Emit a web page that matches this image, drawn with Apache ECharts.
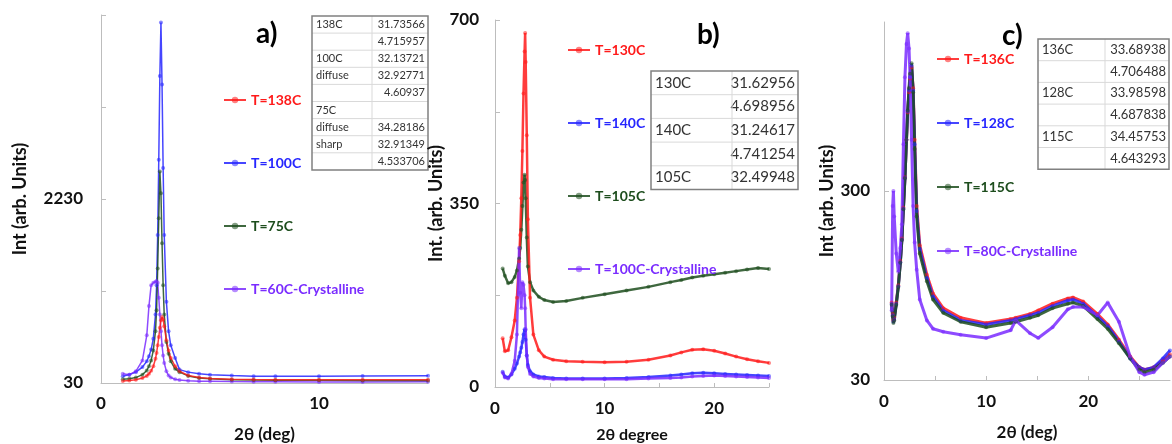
<!DOCTYPE html>
<html>
<head>
<meta charset="utf-8">
<script src="https://cdn.jsdelivr.net/npm/echarts@6.0.0/dist/echarts.min.js"></script>
<style>
  html, body { margin: 0; padding: 0; background: #fff; }
  #chart { width: 1172px; height: 444px; }
</style>
</head>
<body>
<div id="chart"></div>
<script>
// ---- panel a) ----
const aX = [1.0, 1.3, 1.6, 1.9, 2.1, 2.2, 2.3, 2.4, 2.5, 2.55, 2.6, 2.65, 2.7, 2.75, 2.8, 2.85, 2.9, 3.0, 3.1, 3.2, 3.4, 3.6, 4.0, 4.5, 5, 6, 7, 8, 10, 12, 15]
const aT138 = [55, 60, 68, 90, 115, 140, 175, 230, 320, 390, 480, 580, 690, 780, 820, 790, 710, 540, 420, 330, 230, 170, 120, 95, 85, 76, 72, 70, 68, 68, 70]
const aT100 = [110, 130, 160, 220, 290, 350, 430, 560, 850, 1200, 1800, 2700, 3700, 4340, 3600, 2600, 1800, 1000, 650, 480, 330, 190, 160, 140, 130, 120, 112, 110, 112, 114, 118]
const aT75 = [75, 82, 95, 130, 180, 230, 300, 420, 650, 900, 1400, 2000, 2560, 2300, 1700, 1200, 850, 520, 380, 290, 200, 160, 115, 90, 80, 70, 66, 64, 62, 60, 60]
const aT60 = [140, 130, 170, 300, 600, 950, 1200, 1230, 1240, 1250, 1230, 1050, 850, 650, 480, 360, 270, 170, 120, 95, 75, 65, 58, 52, 50, 47, 45, 44, 42, 42, 44]
const aYTicks = [30, 2230]
const aTableCol1 = ["138C", "", "100C", "diffuse", "", "75C", "diffuse", "sharp", ""]
const aTableCol2 = ["31.73566", "4.715957", "32.13721", "32.92771", "4.60937", "", "34.28186", "32.91349", "4.533706"]

// ---- panel b) ----
const bX = [0.7, 0.9, 1.2, 1.5, 1.8, 2.0, 2.2, 2.3, 2.4, 2.5, 2.6, 2.7, 2.75, 2.8, 2.9, 3.0, 3.2, 3.5, 4.0, 4.5, 5.3, 6.5, 8, 10, 12, 14, 16, 17, 18, 19, 20, 21, 22, 23, 24, 25]
const bT130 = [93, 68, 70, 95, 127, 170, 240, 290, 360, 450, 560, 640, 675, 620, 480, 320, 170, 100, 70, 58, 52, 49, 48, 47, 48, 52, 60, 66, 71, 72, 69, 64, 58, 53, 49, 46]
const bT140 = [29, 20, 18, 24, 35, 45, 58, 66, 75, 86, 100, 110, 108, 90, 60, 42, 30, 24, 20, 19, 17, 16, 16, 16, 17, 19, 22, 24, 26, 27, 26, 25, 24, 23, 22, 21]
const bT105 = [226, 212, 198, 200, 210, 222, 245, 265, 300, 345, 390, 405, 395, 360, 285, 230, 200, 184, 172, 166, 162, 164, 170, 177, 184, 191, 200, 204, 209, 212, 215, 218, 221, 224, 227, 225]
const bT100 = [27, 18, 16, 25, 50, 100, 265, 180, 150, 200, 195, 175, 150, 110, 60, 38, 25, 20, 17, 16, 15, 15, 15, 15, 15, 16, 17, 18, 20, 21, 22, 21, 20, 19, 18, 17]
const bYTicks = [0, 350, 700]
const bTableCol1 = ["130C", "", "140C", "", "105C"]
const bTableCol2 = ["31.62956", "4.698956", "31.24617", "4.741254", "32.49948"]

// ---- panel c) ----
const cX = [0.75, 0.85, 0.92, 1.0, 1.2, 1.4, 1.6, 1.75, 1.9, 2.05, 2.2, 2.32, 2.45, 2.55, 2.7, 2.85, 3.0, 3.2, 3.5, 4.2, 4.8, 5.8, 7.5, 10, 12.4, 12.9, 14.3, 15.1, 16.5, 18, 18.5, 19.5, 20.9, 21.9, 23, 24.1, 25, 25.5, 26.4, 27.3, 28]
const cT136 = [77, 67, 62, 64, 77, 95, 128, 168, 245, 355, 560, 780, 1000, 1180, 1350, 1050, 560, 250, 155, 108, 86, 72, 64, 60, 63, 64, 67, 70, 76, 81, 82, 78, 67, 59, 49, 40, 35, 34, 35, 38, 41]
const cT128 = [76, 66, 61, 63, 76, 94, 126, 166, 242, 352, 560, 790, 1020, 1200, 1380, 1020, 530, 235, 148, 104, 83, 70, 62, 59, 62, 63, 66, 68, 74, 79, 80, 76, 65, 58, 48, 39, 35, 34, 35, 39, 43]
const cT115 = [75, 65, 60, 62, 75, 93, 125, 165, 240, 350, 560, 800, 1050, 1250, 1420, 1000, 500, 220, 140, 100, 80, 68, 61, 57, 60, 61, 64, 66, 72, 76, 77, 74, 63, 56, 47, 39, 34, 33, 34, 37, 40]
const cT80 = [70, 250, 300, 220, 140, 112, 150, 200, 530, 1200, 1800, 2050, 1700, 1200, 560, 250, 160, 115, 80, 62, 56, 54, 52, 50, 55, 62, 53, 50, 57, 71, 73, 73, 66, 77, 61, 40, 33, 32, 33, 37, 40]
const cYTicks = [30, 300]
const cTableCol1 = ["136C", "", "128C", "", "115C", ""]
const cTableCol2 = ["33.68938", "4.706488", "33.98598", "4.687838", "34.45753", "4.643293"]

const RED = "#ff1a1a"
const BLUE = "#2626ff"
const GREEN = "#1d4d1d"
const PURPLE = "#7a2cff"
const FONT = "Lato"

const chart = echarts.init(document.getElementById("chart"), null, { renderer: "canvas" })

function pairs(xs, ys) {
  return xs.map((x, i) => [x, ys[i]])
}

function mkSeries(name, color, xs, ys, idx, width) {
  return {
    name,
    type: "line",
    xAxisIndex: idx,
    yAxisIndex: idx,
    data: pairs(xs, ys),
    symbol: "circle",
    symbolSize: 4,
    showSymbol: true,
    animation: false,
    lineStyle: { color, width, opacity: 0.85 },
    itemStyle: { color, opacity: 0.55 }
  }
}

// 表格（用graphic画）
function mkTable(x, y, w1, w2, rowH, col1, col2, fontSize) {
  const els = []
  const n = col1.length
  for (let i = 0; i < n; i++) {
    const ry = y + i * rowH
    if (i > 0) {
      els.push({ type: "line", shape: { x1: x, y1: ry, x2: x + w1 + w2, y2: ry }, style: { stroke: "#d9d9d9", lineWidth: 1 } })
    }
    els.push({ type: "text", x: x + 4, y: ry + rowH / 2, style: { text: col1[i], font: `${fontSize}px ${FONT}`, fill: "#333", textVerticalAlign: "middle" } })
    els.push({ type: "text", x: x + w1 + w2 - 3, y: ry + rowH / 2, style: { text: col2[i], font: `${fontSize}px ${FONT}`, fill: "#333", textAlign: "right", textVerticalAlign: "middle" } })
  }
  els.push({ type: "line", shape: { x1: x + w1, y1: y, x2: x + w1, y2: y + n * rowH }, style: { stroke: "#d9d9d9", lineWidth: 1 } })
  els.push({ type: "rect", shape: { x, y, width: w1 + w2, height: n * rowH }, style: { fill: "none", stroke: "#808080", lineWidth: 1.5 } })
  return els
}

function mkLegend(left, top, gap, names, colors) {
  return {
    orient: "vertical",
    left,
    top,
    padding: 0,
    itemGap: gap,
    itemWidth: 22,
    itemHeight: 8,
    selectedMode: false,
    data: names.map((n, i) => ({ name: n, textStyle: { color: colors[i] } })),
    textStyle: { fontFamily: FONT, fontWeight: "bold", fontSize: 14 }
  }
}

const axisLineStyle = { lineStyle: { color: "#bdbdbd", width: 1 } }
const tickStyle = { inside: true, length: 5, lineStyle: { color: "#bdbdbd" } }
const labelStyle = { color: "#111", fontFamily: FONT, fontWeight: "bold", fontSize: 17 }
const nameStyle = { color: "#111", fontFamily: FONT, fontWeight: "bold", fontSize: 18 }

const option = {
  animation: false,
  grid: [
    { left: 101, top: 15, width: 327, height: 368, outerBoundsMode: "none" },
    { left: 495, top: 20, width: 274, height: 367, outerBoundsMode: "none" },
    { left: 884, top: 22, width: 286, height: 358, outerBoundsMode: "none" }
  ],
  xAxis: [
    {
      gridIndex: 0, type: "value", min: 0, max: 15, interval: 10,
      name: "2θ (deg)", nameLocation: "middle", nameGap: 43, nameTextStyle: Object.assign({}, nameStyle, { fontSize: 17 }),
      axisLine: axisLineStyle, axisTick: { show: false }, splitLine: { show: false },
      axisLabel: Object.assign({ margin: 12, showMaxLabel: false }, labelStyle)
    },
    {
      gridIndex: 1, type: "value", min: 0, max: 25, interval: 5,
      name: "2θ degree", nameLocation: "middle", nameGap: 40, nameTextStyle: Object.assign({}, nameStyle, { fontSize: 16 }),
      axisLine: axisLineStyle, axisTick: Object.assign({}, tickStyle, { length: 4 }), splitLine: { show: false },
      axisLabel: Object.assign({ margin: 13, formatter: (v) => (v % 10 === 0 ? v : "") }, labelStyle)
    },
    {
      gridIndex: 2, type: "value", min: 0, max: 28, interval: 5,
      name: "2θ (deg)", nameLocation: "middle", nameGap: 44, nameTextStyle: Object.assign({}, nameStyle, { fontSize: 17 }),
      axisLine: axisLineStyle, axisTick: Object.assign({}, tickStyle, { length: 4 }), splitLine: { show: false },
      axisLabel: Object.assign({ margin: 13, showMaxLabel: false, formatter: (v) => (v % 10 === 0 ? v : "") }, labelStyle)
    }
  ],
  yAxis: [
    {
      gridIndex: 0, type: "value", min: 30, max: 4430, interval: 1100,
      name: "Int (arb. Units)", nameLocation: "middle", nameGap: 72, nameTextStyle: nameStyle,
      axisLine: { show: true, lineStyle: { color: "#bdbdbd" } },
      axisTick: Object.assign({ show: true }, tickStyle), splitLine: { show: false },
      axisLabel: Object.assign({ margin: 18, formatter: (v) => (aYTicks.includes(v) ? v : "") }, labelStyle)
    },
    {
      gridIndex: 1, type: "value", min: 0, max: 700, interval: 175,
      name: "Int. (arb. Units)", nameLocation: "middle", nameGap: 50, nameTextStyle: nameStyle,
      axisLine: { show: true, lineStyle: { color: "#bdbdbd" } },
      axisTick: Object.assign({ show: true }, tickStyle), splitLine: { show: false },
      axisLabel: Object.assign({ margin: 16, formatter: (v) => (bYTicks.includes(v) ? v : "") }, labelStyle)
    },
    {
      gridIndex: 2, type: "log", logBase: 10, min: 30, max: 2350,
      name: "Int (arb. Units)", nameLocation: "middle", nameGap: 46, nameTextStyle: nameStyle,
      axisLine: { show: true, lineStyle: { color: "#bdbdbd" } },
      axisTick: Object.assign({ show: true, customValues: cYTicks }, tickStyle),
      minorTick: { show: false },
      splitLine: { show: false },
      axisLabel: Object.assign({ margin: 14, customValues: cYTicks, formatter: (v) => Math.round(v) }, labelStyle)
    }
  ],
  legend: [
    mkLegend(223, 93, 49, ["T=138C", "T=100C", "T=75C", "T=60C-Crystalline"], [RED, BLUE, GREEN, PURPLE]),
    mkLegend(567, 43, 59, ["T=130C", "T=140C", "T=105C", "T=100C-Crystalline"], [RED, BLUE, GREEN, PURPLE]),
    mkLegend(936, 52, 50, ["T=136C", "T=128C", "T=115C", "T=80C-Crystalline"], [RED, BLUE, GREEN, PURPLE])
  ],
  graphic: [
    { type: "text", x: 256, y: 20, style: { text: "a)", font: `bold 28px ${FONT}`, fill: "#000" } },
    { type: "text", x: 697, y: 21, style: { text: "b)", font: `bold 28px ${FONT}`, fill: "#000" } },
    { type: "text", x: 1002, y: 22, style: { text: "c)", font: `bold 28px ${FONT}`, fill: "#000" } }
  ]
    .concat(mkTable(312, 16, 60, 56, 17.1, aTableCol1, aTableCol2, 11))
    .concat(mkTable(651, 71, 81, 66, 23.7, bTableCol1, bTableCol2, 15))
    .concat(mkTable(1038, 39, 67, 64, 21.7, cTableCol1, cTableCol2, 13)),
  series: [
    mkSeries("T=100C", BLUE, aX, aT100, 0, 1.5),
    mkSeries("T=60C-Crystalline", PURPLE, aX, aT60, 0, 1.5),
    mkSeries("T=75C", GREEN, aX, aT75, 0, 1.5),
    mkSeries("T=138C", RED, aX, aT138, 0, 1.5),

    mkSeries("T=105C", GREEN, bX, bT105, 1, 2.5),
    mkSeries("T=130C", RED, bX, bT130, 1, 2.5),
    mkSeries("T=140C", BLUE, bX, bT140, 1, 2.5),
    mkSeries("T=100C-Crystalline", PURPLE, bX, bT100, 1, 2.5),

    mkSeries("T=136C", RED, cX, cT136, 2, 3),
    mkSeries("T=128C", BLUE, cX, cT128, 2, 3),
    mkSeries("T=115C", GREEN, cX, cT115, 2, 3),
    mkSeries("T=80C-Crystalline", PURPLE, cX, cT80, 2, 3)
  ]
}

chart.setOption(option)
</script>
</body>
</html>
